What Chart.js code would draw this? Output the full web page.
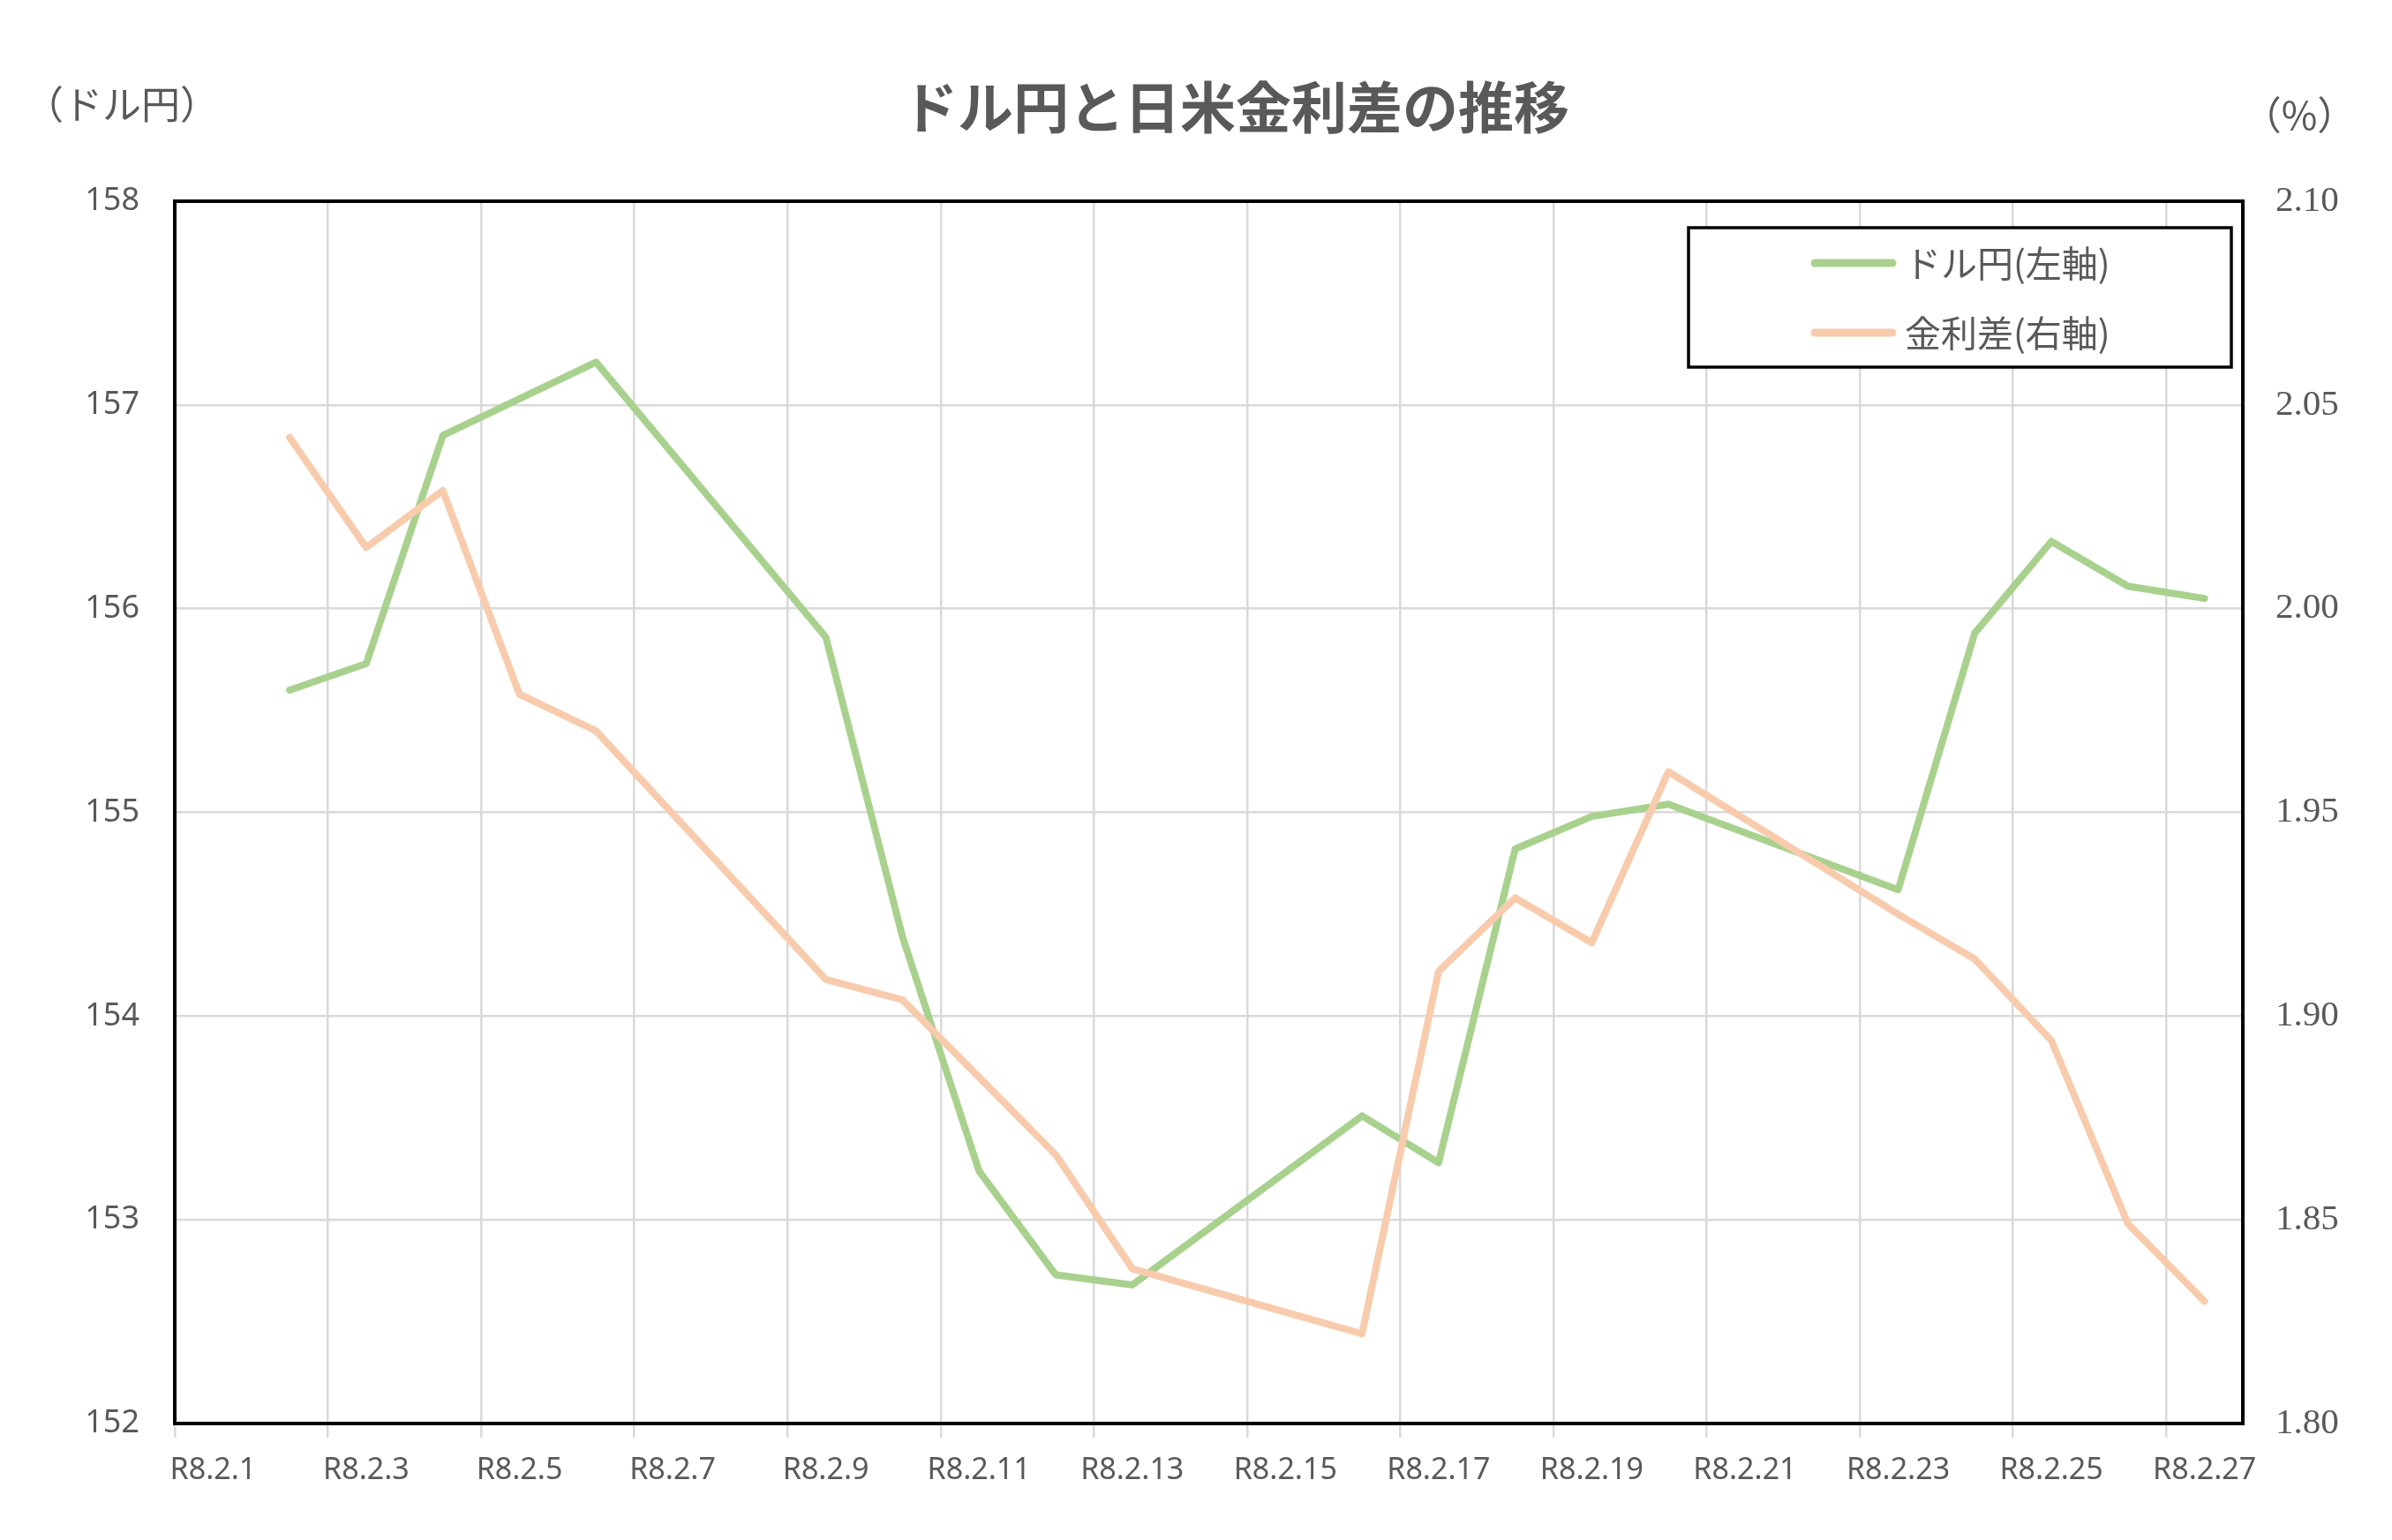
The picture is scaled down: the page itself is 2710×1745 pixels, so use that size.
<!DOCTYPE html>
<html>
<head>
<meta charset="utf-8">
<script src="https://cdn.jsdelivr.net/npm/chart.js@4.4.1/dist/chart.umd.min.js"></script>
<style>
  html, body { margin: 0; padding: 0; background: #fff; }
  #wrap { width: 2710px; height: 1745px; }
</style>
</head>
<body>
<div id="wrap"><canvas id="chart" width="2710" height="1745"></canvas></div>
<script>
// 日付 (R8.2.1 〜 R8.2.27)、土日は null
const days = [
  'R8.2.1', 'R8.2.2', 'R8.2.3', 'R8.2.4', 'R8.2.5', 'R8.2.6', 'R8.2.7', 'R8.2.8', 'R8.2.9',
  'R8.2.10', 'R8.2.11', 'R8.2.12', 'R8.2.13', 'R8.2.14', 'R8.2.15', 'R8.2.16', 'R8.2.17', 'R8.2.18',
  'R8.2.19', 'R8.2.20', 'R8.2.21', 'R8.2.22', 'R8.2.23', 'R8.2.24', 'R8.2.25', 'R8.2.26', 'R8.2.27'
];

// ドル円 (左軸)
const dollarYen = [
  null, 155.60, 155.73, 156.85, 157.03, 157.21, null, null, 155.86,
  154.39, 153.24, 152.73, 152.68, null, null, 153.51, 153.28, 154.82,
  154.98, 155.04, null, null, 154.62, 155.88, 156.33, 156.11, 156.05
];

// 金利差 (右軸, %)
const rateSpread = [
  null, 2.042, 2.015, 2.029, 1.979, 1.970, null, null, 1.909,
  1.904, 1.885, 1.866, 1.838, null, null, 1.822, 1.911, 1.929,
  1.918, 1.960, null, null, 1.925, 1.914, 1.894, 1.849, 1.830
];

const seriesNames = ['ドル円(左軸)', '金利差(右軸)'];
const titleText = 'ドル円と日米金利差の推移';
const leftUnit = '（ドル円）';
const rightUnit = '（%）';

const GREEN = '#A9D18E';
const ORANGE = '#F8CBAD';
const GRID = '#D9D9D9';
const TEXT = '#595959';

// 枠線・単位・凡例
const decorPlugin = {
    id: 'decor',
    afterDraw(chart) {
        const ctx = chart.ctx;
        const a = chart.chartArea;
        ctx.save();

        // プロットエリアの枠
        ctx.strokeStyle = '#000';
        ctx.lineWidth = 4;
        ctx.strokeRect(a.left, a.top, a.right - a.left, a.bottom - a.top);

        // 単位
        ctx.fillStyle = TEXT;
        ctx.font = '44px "Noto Sans CJK JP"';
        ctx.textBaseline = 'middle';
        ctx.textAlign = 'center';
        ctx.fillText(leftUnit, 138, 118);
        ctx.fillText(rightUnit, 2605, 130);

        // 凡例
        const bx = 1913, by = 258, bw = 615, bh = 158;
        ctx.fillStyle = '#fff';
        ctx.fillRect(bx, by, bw, bh);
        ctx.strokeStyle = '#000';
        ctx.lineWidth = 3.5;
        ctx.strokeRect(bx, by, bw, bh);

        const rows = [298, 377];
        chart.data.datasets.forEach((ds, i) => {
            const y = rows[i];
            ctx.strokeStyle = ds.borderColor;
            ctx.lineWidth = 9;
            ctx.lineCap = 'round';
            ctx.beginPath();
            ctx.moveTo(2056, y);
            ctx.lineTo(2144, y);
            ctx.stroke();
            ctx.fillStyle = TEXT;
            ctx.font = '41px "Noto Sans CJK JP"';
            ctx.textAlign = 'left';
            ctx.fillText(ds.label, 2158, y);
        });
        ctx.restore();
    }
};

const ctx = document.getElementById('chart').getContext('2d');
const chart = new Chart(ctx, {
    type: 'line',
    data: {
        labels: days,
        datasets: [
            {
                label: seriesNames[0],
                data: dollarYen,
                yAxisID: 'y',
                borderColor: GREEN,
                backgroundColor: GREEN,
                borderWidth: 8,
                pointRadius: 0,
                spanGaps: true,
                tension: 0,
                borderJoinStyle: 'round',
                borderCapStyle: 'round',
                order: 2
            },
            {
                label: seriesNames[1],
                data: rateSpread,
                yAxisID: 'y2',
                borderColor: ORANGE,
                backgroundColor: ORANGE,
                borderWidth: 8,
                pointRadius: 0,
                spanGaps: true,
                tension: 0,
                borderJoinStyle: 'round',
                borderCapStyle: 'round',
                order: 1
            }
        ]
    },
    options: {
        responsive: false,
        animation: false,
        devicePixelRatio: 1,
        events: [],
        layout: { padding: { left: 90, right: 0, top: 0, bottom: 0 } },
        plugins: {
            legend: { display: false },
            tooltip: { enabled: false },
            title: {
                display: true,
                text: titleText,
                color: TEXT,
                font: { family: '"Noto Sans CJK JP"', size: 63, weight: 'bold' },
                padding: { top: 83.2, bottom: 69.2 }
            }
        },
        scales: {
            x: {
                type: 'category',
                offset: true,
                border: { display: false },
                grid: {
                    offset: true,
                    color: c => (c.index % 2 === 0 ? GRID : 'rgba(0,0,0,0)'),
                    lineWidth: 2.5,
                    drawTicks: true,
                    tickLength: 16
                },
                ticks: {
                    autoSkip: false,
                    maxRotation: 0,
                    padding: 17,
                    color: TEXT,
                    font: { family: '"Noto Sans"', size: 34 },
                    callback: function (v, i) {
                        return i % 2 === 0 ? this.getLabelForValue(v) : '';
                    }
                },
                afterFit: s => { s.height = 132; }
            },
            y: {
                position: 'left',
                min: 152,
                max: 158,
                border: { display: false },
                grid: { color: GRID, lineWidth: 2.5, drawTicks: false },
                ticks: {
                    stepSize: 1,
                    padding: 40,
                    color: TEXT,
                    font: { family: '"Noto Sans"', size: 36 }
                },
                afterFit: s => { s.width = 108; }
            },
            y2: {
                position: 'right',
                min: 1.80,
                max: 2.10,
                border: { display: false },
                grid: { display: false, drawTicks: false },
                ticks: {
                    stepSize: 0.05,
                    padding: 37,
                    color: TEXT,
                    font: { family: '"Liberation Serif"', size: 41 },
                    callback: v => v.toFixed(2)
                },
                afterFit: s => { s.width = 169; }
            }
        }
    },
    plugins: [decorPlugin]
});
</script>
</body>
</html>
